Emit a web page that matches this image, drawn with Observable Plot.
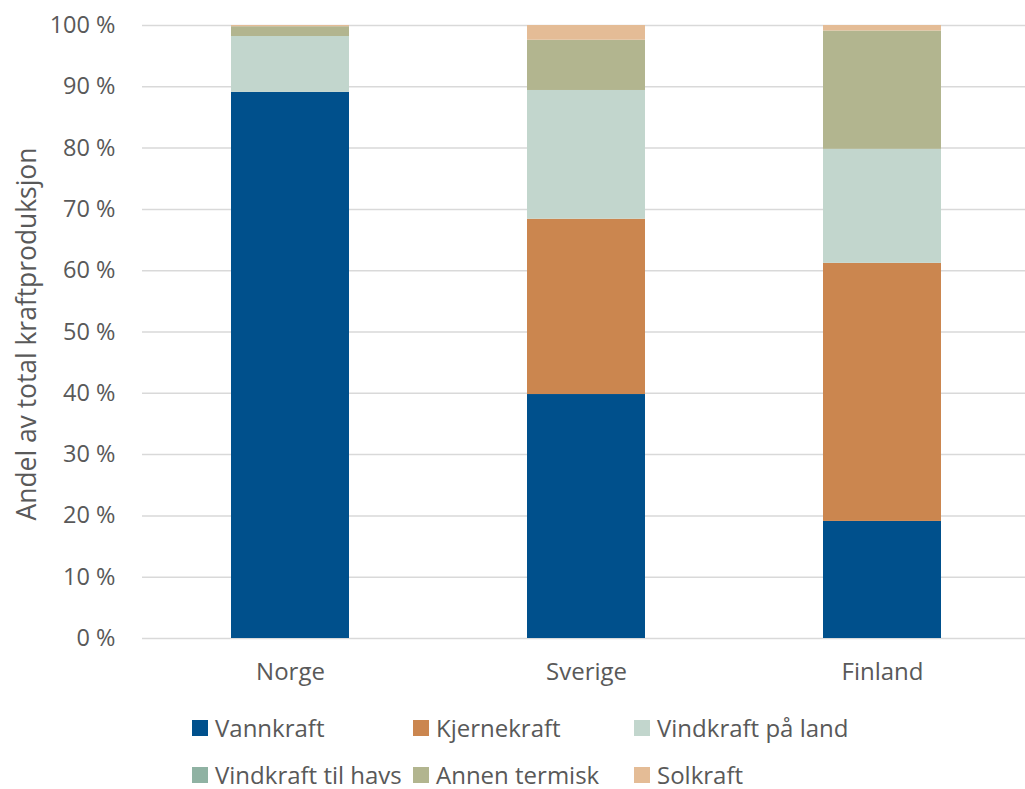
<!DOCTYPE html>
<html>
<head>
<meta charset="utf-8">
<script src="https://cdn.jsdelivr.net/npm/d3@7"></script>
<script src="https://cdn.jsdelivr.net/npm/@observablehq/plot@0.6"></script>
<style>
  body { margin: 0; background: #fff; font-family: "Open Sans", sans-serif; }
  #legend { display: grid; grid-template-columns: 221px 221px 221px; margin-left: 192px; padding-top: 4px; }
  .item { display: flex; align-items: center; height: 47px; font-size: 24px; color: #595959; white-space: nowrap; }
  .sw { width: 16px; height: 16px; margin-right: 7px; flex: none; }
</style>
</head>
<body>
<div id="chart"></div>
<div id="legend"></div>
<script>
const countries = ["Norge", "Sverige", "Finland"];
const sources = ["Vannkraft", "Kjernekraft", "Vindkraft på land", "Vindkraft til havs", "Annen termisk", "Solkraft"];
const colors = ["#00508C", "#CB864F", "#C2D6CD", "#8FB2A3", "#B2B58F", "#E4BC96"];
const vannkraft = [89.1, 39.8, 19.1];
const kjernekraft = [0, 28.6, 42.1];
const vindLand = [9.1, 21.0, 18.6];
const vindHavs = [0, 0, 0];
const annenTermisk = [1.6, 8.2, 19.3];
const solkraft = [0.2, 2.4, 0.9];
const yTicks = [0, 10, 20, 30, 40, 50, 60, 70, 80, 90, 100];

const series = [vannkraft, kjernekraft, vindLand, vindHavs, annenTermisk, solkraft];
const data = [];
countries.forEach((c, i) => {
  sources.forEach((s, j) => data.push({country: c, source: s, value: series[j][i]}));
});

const chart = Plot.plot({
  width: 1025,
  height: 700,
  marginTop: 25,
  marginBottom: 62,
  marginLeft: 142,
  marginRight: -5,
  style: {fontFamily: "Open Sans, sans-serif", fontSize: "24px", color: "#595959", background: "#fff", overflow: "hidden"},
  x: {domain: countries, paddingInner: 0.6, paddingOuter: 0.3, label: null},
  y: {domain: [0, 100], label: null},
  color: {domain: sources, range: colors},
  marks: [
    Plot.gridY(yTicks, {stroke: "#d9d9d9", strokeOpacity: 1, strokeWidth: 1.5}),
    Plot.barY(data, {x: "country", y: "value", fill: "source", order: sources}),
    Plot.axisY(yTicks, {tickSize: 0, tickPadding: 27, tickFormat: d => d + " %", fontSize: 23.5, label: null}),
    Plot.text(["Andel av total kraftproduksjon"], {frameAnchor: "left", rotate: -90, dx: -115, dy: 2, fontSize: 26.4, fill: "#595959", lineAnchor: "middle", textAnchor: "middle"}),
    Plot.axisX({tickSize: 0, tickPadding: 24, fontSize: 24, label: null})
  ]
});
document.getElementById("chart").appendChild(chart);

const legend = document.getElementById("legend");
sources.forEach((s, j) => {
  const item = document.createElement("div");
  item.className = "item";
  const sw = document.createElement("span");
  sw.className = "sw";
  sw.style.background = colors[j];
  item.appendChild(sw);
  item.appendChild(document.createTextNode(s));
  legend.appendChild(item);
});
</script>
</body>
</html>
